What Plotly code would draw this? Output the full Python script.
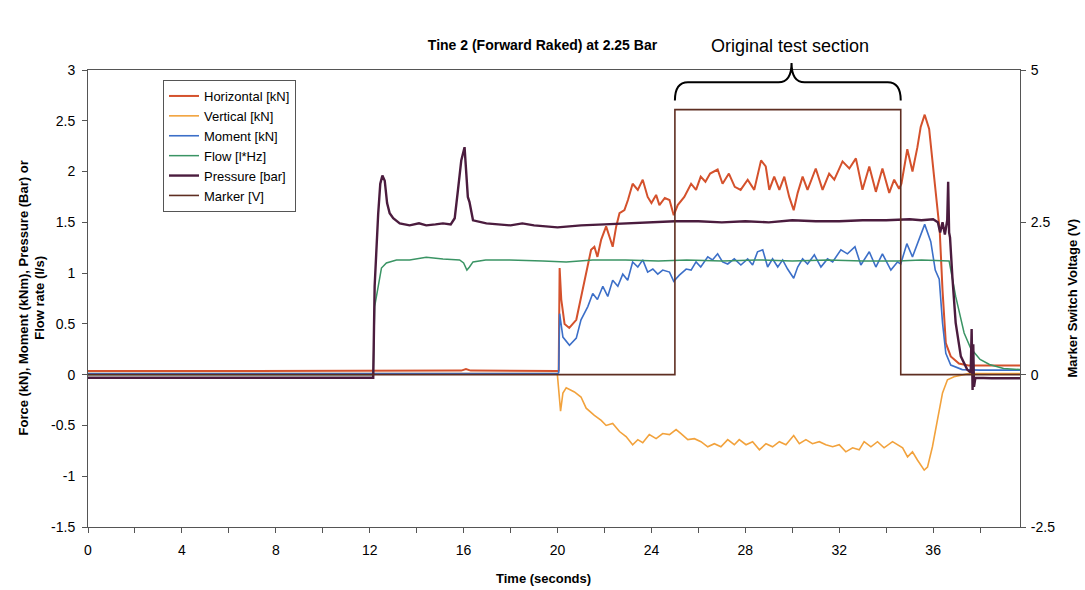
import plotly.graph_objects as go

# ---------------- data ----------------
h_t = [0, 4, 8, 12, 15.9, 16.1, 16.3, 20.0, 20.05, 20.09, 20.16, 20.3, 20.5, 20.8, 21.0, 21.22,
       21.43, 21.57, 21.7, 21.86, 22.07, 22.21, 22.35, 22.5, 22.64, 22.85, 23.0, 23.2, 23.42,
       23.63, 23.84, 24.0, 24.2, 24.34, 24.57, 24.77, 24.95, 25.12, 25.4, 25.69, 25.9, 26.1,
       26.3, 26.5, 26.82, 27.03, 27.3, 27.55, 27.8, 28.1, 28.38, 28.67, 28.87, 29.02, 29.23,
       29.45, 29.66, 29.87, 30.06, 30.23, 30.44, 30.65, 31.0, 31.29, 31.57, 31.79, 32.14,
       32.43, 32.71, 32.99, 33.28, 33.56, 33.84, 34.13, 34.34, 34.55, 34.65, 34.9, 35.12,
       35.33, 35.47, 35.64, 35.83, 36.04, 36.18, 36.28, 36.4, 36.54, 36.75, 37.1, 37.5, 38.1,
       39.7]
h_v = [0.035, 0.035, 0.035, 0.035, 0.04, 0.055, 0.04, 0.035, 0.04, 1.05, 0.74, 0.50, 0.46,
       0.54, 0.77, 1.0, 1.23, 1.26, 1.16, 1.33, 1.46, 1.36, 1.26, 1.46, 1.59, 1.62, 1.72, 1.88,
       1.82, 1.92, 1.75, 1.69, 1.77, 1.67, 1.74, 1.72, 1.57, 1.67, 1.75, 1.88, 1.82, 1.95, 1.90,
       1.98, 2.02, 1.88, 1.98, 1.85, 1.82, 1.92, 1.82, 2.11, 2.05, 1.82, 1.95, 1.82, 1.95, 1.75,
       1.62, 1.79, 1.95, 1.82, 2.03, 1.82, 1.98, 1.92, 2.10, 2.03, 2.13, 1.82, 2.05, 1.80, 2.03,
       1.79, 1.92, 1.83, 1.88, 2.22, 2.0, 2.24, 2.44, 2.56, 2.42, 1.95, 1.67, 1.42, 0.83, 0.31,
       0.18, 0.11, 0.09, 0.09, 0.09]

v_t = [0, 12, 19.99, 20.13, 20.23, 20.37, 20.72, 21.0, 21.22, 21.57, 21.86, 22.07, 22.35, 22.64,
       22.92, 23.2, 23.42, 23.63, 23.91, 24.2, 24.48, 24.77, 25.05, 25.26, 25.55, 25.83, 26.11,
       26.4, 26.68, 26.96, 27.25, 27.53, 27.74, 28.03, 28.31, 28.6, 28.88, 29.16, 29.45, 29.73,
       30.06, 30.3, 30.58, 30.86, 31.15, 31.43, 31.72, 32.0, 32.28, 32.57, 32.85, 33.06, 33.35,
       33.63, 33.91, 34.27, 34.48, 34.7, 34.91, 35.12, 35.33, 35.62, 35.76, 35.97, 36.18, 36.4,
       36.61, 36.89, 37.5, 39.7]
v_v = [0.01, 0.01, 0.01, -0.36, -0.18, -0.13, -0.17, -0.22, -0.33, -0.40, -0.45, -0.50, -0.48,
       -0.56, -0.61, -0.69, -0.64, -0.67, -0.59, -0.63, -0.58, -0.59, -0.54, -0.58, -0.64, -0.63,
       -0.66, -0.71, -0.68, -0.71, -0.64, -0.69, -0.64, -0.69, -0.66, -0.74, -0.68, -0.71, -0.66,
       -0.69, -0.60, -0.68, -0.64, -0.68, -0.66, -0.69, -0.71, -0.69, -0.76, -0.72, -0.74, -0.66,
       -0.71, -0.66, -0.72, -0.66, -0.69, -0.72, -0.81, -0.76, -0.84, -0.94, -0.91, -0.71, -0.45,
       -0.18, -0.05, -0.02, 0.01, 0.01]

mo_t = [0, 12, 20.0, 20.05, 20.09, 20.23, 20.51, 20.8, 21.0, 21.29, 21.5, 21.7, 21.93, 22.14,
        22.35, 22.57, 22.78, 22.99, 23.2, 23.42, 23.63, 23.84, 24.06, 24.27, 24.48, 24.77, 24.95,
        25.19, 25.48, 25.69, 25.9, 26.1, 26.4, 26.6, 26.82, 27.03, 27.25, 27.53, 27.81, 28.1,
        28.31, 28.52, 28.74, 28.95, 29.16, 29.38, 29.59, 29.8, 30.06, 30.23, 30.44, 30.65, 30.94,
        31.22, 31.5, 31.72, 32.07, 32.35, 32.67, 32.92, 33.28, 33.56, 33.84, 34.2, 34.48, 34.62,
        34.88, 35.12, 35.33, 35.64, 35.9, 36.09, 36.26, 36.4, 36.54, 36.75, 37.24, 38.0, 39.7]
mo_v = [0.01, 0.01, 0.01, 0.02, 0.60, 0.37, 0.29, 0.36, 0.54, 0.67, 0.80, 0.74, 0.87, 0.77, 0.93,
        0.87, 0.99, 0.93, 1.11, 1.06, 1.13, 1.01, 1.04, 0.99, 1.03, 1.01, 0.92, 0.98, 1.04, 1.03,
        1.11, 1.06, 1.16, 1.13, 1.19, 1.11, 1.09, 1.14, 1.08, 1.14, 1.08, 1.21, 1.23, 1.06, 1.14,
        1.06, 1.13, 1.04, 0.95, 1.06, 1.14, 1.09, 1.18, 1.06, 1.14, 1.11, 1.23, 1.19, 1.26, 1.08,
        1.21, 1.06, 1.19, 1.03, 1.11, 1.09, 1.29, 1.16, 1.29, 1.48, 1.31, 1.03, 0.94, 0.51, 0.21,
        0.095, 0.05, 0.045, 0.045]

f_t = [0, 12.15, 12.21, 12.36, 12.5, 12.71, 13.14, 13.7, 14.41, 15.12, 15.83, 16.0, 16.14, 16.25,
       16.4, 16.94, 17.96, 19.38, 20.37, 21.5, 22.9, 24.3, 25.5, 27.0, 28.5, 30.0, 31.5, 33.0,
       34.5, 35.5, 36.4, 36.68, 36.96, 37.32, 37.6, 38.0, 38.4, 39.0, 39.7]
f_v = [0.0, 0.0, 0.67, 0.87, 1.05, 1.10, 1.13, 1.13, 1.155, 1.14, 1.13, 1.10, 1.03, 1.06, 1.11,
       1.13, 1.13, 1.12, 1.11, 1.13, 1.13, 1.12, 1.13, 1.12, 1.13, 1.12, 1.13, 1.12, 1.12, 1.13,
       1.12, 1.12, 0.77, 0.41, 0.26, 0.15, 0.10, 0.06, 0.05]

p_t = [0, 12.15, 12.21, 12.26, 12.36, 12.45, 12.54, 12.64, 12.74, 12.85, 13.0, 13.28, 13.7, 14.1,
       14.41, 14.8, 15.12, 15.45, 15.62, 15.76, 15.9, 16.04, 16.11, 16.18, 16.25, 16.4, 16.97,
       17.5, 18.0, 18.5, 19.0, 19.5, 20.0, 20.5, 21.0, 22.0, 23.0, 24.0, 25.0, 26.0, 27.0, 28.0,
       29.0, 30.0, 31.0, 32.0, 33.0, 34.0, 35.0, 35.5, 36.0, 36.2, 36.3, 36.4, 36.5, 36.6, 36.64,
       36.68, 36.72, 36.82, 36.96, 37.18, 37.45, 37.6, 37.64, 37.68, 37.71, 37.74, 37.8, 38.5,
       39.7]
p_v = [-0.03, -0.03, 0.87, 1.16, 1.58, 1.88, 1.96, 1.91, 1.69, 1.59, 1.54, 1.49, 1.47, 1.49,
       1.47, 1.48, 1.49, 1.48, 1.54, 1.82, 2.11, 2.24, 2.01, 1.75, 1.70, 1.52, 1.49, 1.48, 1.47,
       1.49, 1.47, 1.46, 1.45, 1.46, 1.47, 1.48, 1.49, 1.50, 1.51, 1.51, 1.50, 1.51, 1.50, 1.52,
       1.51, 1.51, 1.52, 1.52, 1.53, 1.52, 1.53, 1.50, 1.40, 1.50, 1.38, 1.52, 1.90, 1.40, 1.35,
       0.96, 0.51, 0.18, 0.05, 0.02, 0.45, -0.15, 0.30, -0.12, -0.03, -0.035, -0.035]

m_t = [0, 25.0, 25.0, 34.62, 34.62, 39.7]
m_v = [0, 0, 4.35, 4.35, 0, 0]

series_names = ["Horizontal [kN]", "Vertical [kN]", "Moment [kN]", "Flow [l*Hz]",
                "Pressure [bar]", "Marker [V]"]

x_ticks = [0, 4, 8, 12, 16, 20, 24, 28, 32, 36]
y_ticks = [-1.5, -1, -0.5, 0, 0.5, 1, 1.5, 2, 2.5, 3]
y_labels = ["-1.5", "-1", "-0.5", "0", "0.5", "1", "1.5", "2", "2.5", "3"]
y2_ticks = [-2.5, 0, 2.5, 5]
y2_labels = ["-2.5", "0", "2.5", "5"]

X_RANGE = [0, 39.7]
Y_RANGE = [-1.5, 3]
Y2_RANGE = [-2.5, 5]

FONT = "Liberation Sans, Arial, sans-serif"
colors = ["#d4512c", "#f2a23c", "#3c6fc8", "#3a9464", "#4b1c3e", "#5e2e22"]
widths = [2.0, 1.6, 1.6, 1.5, 2.4, 1.6]

fig = go.Figure()
data = [(h_t, h_v), (v_t, v_v), (mo_t, mo_v), (f_t, f_v), (p_t, p_v)]
for (tt, vv), name, c, w in zip(data, series_names[:5], colors[:5], widths[:5]):
    fig.add_trace(go.Scatter(x=tt, y=vv, mode="lines", name=name,
                             line=dict(color=c, width=w)))
fig.add_trace(go.Scatter(x=m_t, y=m_v, mode="lines", name=series_names[5], yaxis="y2",
                         line=dict(color=colors[5], width=widths[5])))

# brace above the test section (paper coordinates derived from data coordinates)
def px_(t):
    return (t - X_RANGE[0]) / (X_RANGE[1] - X_RANGE[0])

def py_(v):
    return (v - Y_RANGE[0]) / (Y_RANGE[1] - Y_RANGE[0])

x0, x1 = px_(m_t[1]), px_(m_t[3])
xm = (x0 + x1) / 2 + 0.004
dx = 0.014
yb, ym, yp = py_(2.70), py_(2.88), py_(3.07)
brace = (f"M {x0},{yb} Q {x0},{ym} {x0+dx},{ym} L {xm-dx},{ym} Q {xm},{ym} {xm},{yp} "
         f"Q {xm},{ym} {xm+dx},{ym} L {x1-dx},{ym} Q {x1},{ym} {x1},{yb}")

axis_common = dict(showgrid=False, zeroline=False, showline=True, linecolor="#555",
                   linewidth=1, ticks="outside", ticklen=5, tickcolor="#555",
                   tickfont=dict(family=FONT, size=14, color="black"))

fig.update_layout(
    width=1085, height=590,
    margin=dict(l=88, r=65, t=70, b=63),
    paper_bgcolor="white", plot_bgcolor="white",
    font=dict(family=FONT, color="black"),
    title=dict(text="<b>Tine 2 (Forward Raked) at 2.25 Bar</b>", x=0.5, xanchor="center",
               y=1 - 45 / 590, yanchor="middle", font=dict(size=14, family=FONT)),
    xaxis=dict(range=X_RANGE, tickvals=x_ticks, mirror=True, ticklabelstandoff=5,
               minor=dict(dtick=2, ticks="outside", ticklen=5, tickcolor="#555"),
               **axis_common),
    yaxis=dict(range=Y_RANGE, tickvals=y_ticks, ticktext=y_labels, ticklabelstandoff=4,
               **axis_common),
    yaxis2=dict(range=Y2_RANGE, tickvals=y2_ticks, ticktext=y2_labels, overlaying="y",
                side="right", ticklabelstandoff=2, **axis_common),
    showlegend=True,
    legend=dict(x=(163 - 88) / 932, y=(527 - 80) / 457, xanchor="left", yanchor="top",
                bgcolor="white", bordercolor="#555", borderwidth=1, itemwidth=30,
                font=dict(family=FONT, size=13, color="black"), tracegroupgap=0),
    shapes=[dict(type="path", path=brace, xref="paper", yref="paper",
                 line=dict(color="black", width=2))],
    annotations=[
        dict(text="Original test section", xref="paper", yref="paper",
             x=(790 - 88) / 932, y=(527 - 46) / 457, showarrow=False,
             font=dict(size=18, family=FONT), xanchor="center", yanchor="middle"),
        dict(text="<b>Time (seconds)</b>", xref="paper", yref="paper", x=(543 - 88) / 932,
             y=(527 - 578) / 457, showarrow=False, font=dict(size=13, family=FONT),
             xanchor="center", yanchor="middle"),
        dict(text="<b>Force (kN), Moment (kNm), Pressure (Bar) or<br>Flow rate (l/s)</b>",
             xref="paper", yref="paper", x=(31 - 88) / 932, y=0.5, textangle=-90,
             showarrow=False, font=dict(size=13, family=FONT), xanchor="center",
             yanchor="middle"),
        dict(text="<b>Marker Switch Voltage (V)</b>", xref="paper", yref="paper",
             x=(1072 - 88) / 932, y=0.5, textangle=-90, showarrow=False,
             font=dict(size=13, family=FONT), xanchor="center", yanchor="middle"),
    ],
)

fig.write_html("out.html")
